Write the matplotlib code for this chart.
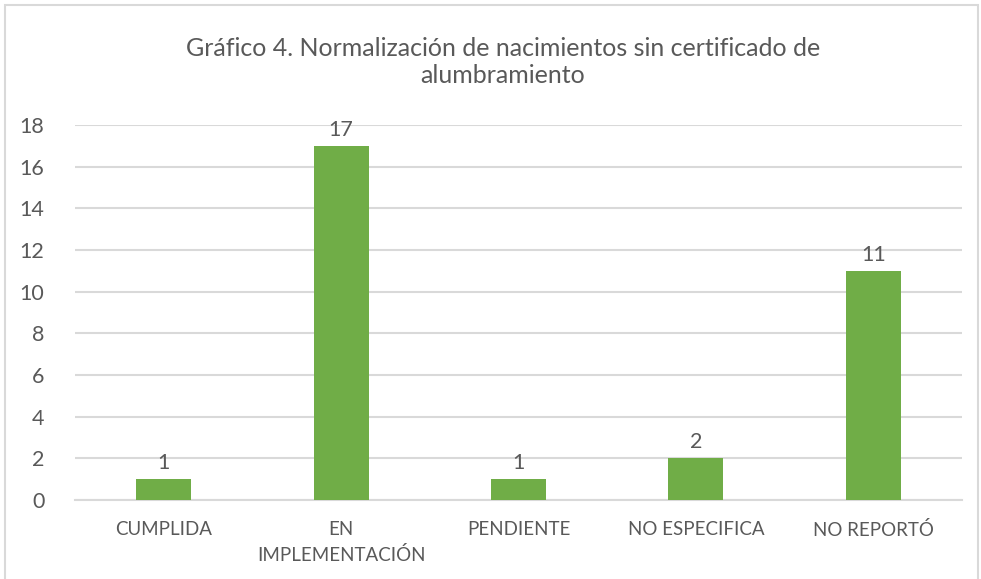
import matplotlib.pyplot as plt
from matplotlib.patches import Rectangle

categories = ['CUMPLIDA', 'EN\nIMPLEMENTACIÓN', 'PENDIENTE', 'NO ESPECIFICA', 'NO REPORTÓ']
values = [1, 17, 1, 2, 11]
yticks = [0, 2, 4, 6, 8, 10, 12, 14, 16, 18]

plt.rcParams['font.family'] = ['Lato', 'DejaVu Sans']
text_color = '#595959'
grid_color = '#d9d9d9'
bar_color = '#70ad47'

fig = plt.figure(figsize=(9.81, 5.79), dpi=100)
fig.patches.append(Rectangle((5/981, -0.1), 973/981, 1.1 - 5/579, transform=fig.transFigure,
                             fill=False, edgecolor=grid_color, linewidth=1.5))

ax = fig.add_axes([75/981, 1 - 500/579, 887/981, 375/579])
x = range(len(categories))
bars = ax.bar(x, values, width=0.31, color=bar_color, zorder=3)
for xi, v in zip(x, values):
    ax.text(xi, v + 0.3, str(v), ha='center', va='bottom', fontsize=15.5, color=text_color)

ax.set_xlim(-0.5, len(categories) - 0.5)
ax.set_ylim(0, 18)
ax.set_yticks(yticks)
ax.set_xticks(list(x))
ax.set_xticklabels(categories, fontsize=13.5, color=text_color, linespacing=1.55)
ax.tick_params(axis='y', labelsize=15.5, labelcolor=text_color, length=0, pad=22)
ax.tick_params(axis='x', length=0, pad=15)
ax.grid(axis='y', color=grid_color, linewidth=1.5, zorder=0)
for s in ['top', 'right', 'left']:
    ax.spines[s].set_visible(False)
ax.spines['bottom'].set_color(grid_color)
ax.spines['bottom'].set_linewidth(1.5)

fig.text(503/981, 1 - 62/579, 'Gráfico 4. Normalización de nacimientos sin certificado de\nalumbramiento',
         ha='center', va='center', fontsize=18, color=text_color, linespacing=1.25)

fig.savefig('out.png', dpi=100)
